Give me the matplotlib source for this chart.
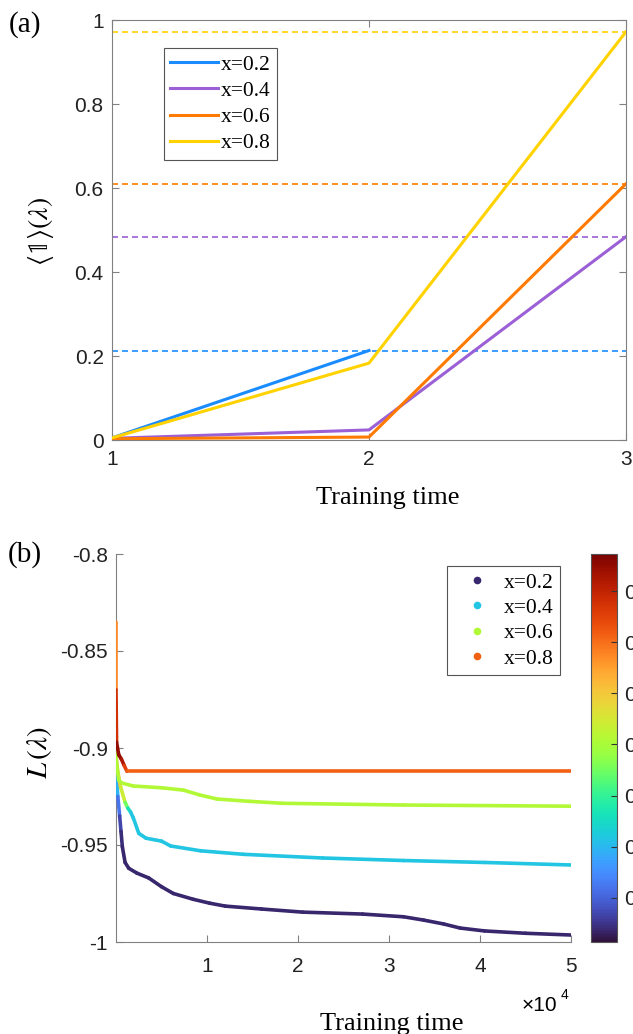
import numpy as np
import matplotlib.pyplot as plt
from matplotlib.collections import LineCollection
from matplotlib.lines import Line2D
from matplotlib import colors as mcolors

plt.rcParams['mathtext.fontset'] = 'stix'
SERIF = 'Liberation Serif'
SANS = 'Liberation Sans'
AXC = '#808080'

# ---------------- panel (a) data ----------------
steps_a = [1, 2, 3]
labels = ['x=0.2', 'x=0.4', 'x=0.6', 'x=0.8']
ind_02 = [0.005, 0.213]            # x=0.2 run stops after step 2
ind_04 = [0.004, 0.024, 0.484]
ind_06 = [0.003, 0.007, 0.610]
ind_08 = [0.005, 0.183, 0.972]
targets = [0.213, 0.483, 0.610, 0.972]
colors_a = ['#1a8cff', '#9b5fd6', '#ff7a00', '#ffd200']

# ---------------- panel (b) data ----------------
# training step, loss, colour value (shown by colorbar)
t_02 = [0, 0, 200, 400, 550, 700, 1000, 1400, 2300, 3600, 5000, 6300, 8500,
        10300, 12000, 16000, 20500, 27100, 31600, 33800, 36000, 37800, 40500, 45000, 50000]
L_02 = [-0.876, -0.911, -0.925, -0.935, -0.943, -0.951, -0.959, -0.962, -0.9645, -0.967,
        -0.9715, -0.975, -0.978, -0.980, -0.9815, -0.983, -0.9846, -0.9856, -0.987,
        -0.9887, -0.9907, -0.9928, -0.9943, -0.9955, -0.9964]
c_02 = [0.036, 0.24, 0.15, 0.09, 0.05] + [0.036] * 20

t_04 = [0, 150, 500, 1000, 1300, 1600, 1900, 2500, 3300, 5000, 6000, 9300, 14000,
        22700, 31600, 40500, 50000]
L_04 = [-0.904, -0.911, -0.920, -0.928, -0.931, -0.933, -0.936, -0.944, -0.9465, -0.948,
        -0.9505, -0.953, -0.9548, -0.9567, -0.958, -0.959, -0.9603]
c_04 = [0.56, 0.53, 0.48, 0.40, 0.30, 0.218] + [0.218] * 11

t_06 = [0, 0, 300, 600, 1900, 5000, 7400, 9200, 11100, 14700, 18300, 31600, 50000]
L_06 = [-0.883, -0.905, -0.9165, -0.918, -0.9196, -0.9205, -0.9217, -0.9242, -0.9263,
        -0.9275, -0.9285, -0.9294, -0.930]
c_06 = [0.408] * 13

t_08 = [0, 0, 60, 300, 600, 900, 1200, 50000]
L_08 = [-0.835, -0.870, -0.897, -0.9035, -0.9058, -0.909, -0.912, -0.912]
c_08 = [0.53, 0.62, 0.735, 0.76, 0.74, 0.70, 0.613, 0.613]

cvals_legend = [0.036, 0.218, 0.408, 0.613]
cbar_ticks = [0.1, 0.2, 0.3, 0.4, 0.5, 0.6, 0.7]
norm = mcolors.Normalize(vmin=0.0137, vmax=0.7725)
cmap = plt.get_cmap('turbo')

fig = plt.figure(figsize=(6.33, 10.34), dpi=100)

# ================= (a) =================
ax1 = fig.add_axes([112 / 633, 1 - 440 / 1034, 514 / 633, 420 / 1034])
series_a = [ind_02, ind_04, ind_06, ind_08]
for vals, col, lab in zip(series_a, colors_a, labels):
    ax1.plot(steps_a[:len(vals)], vals, color=col, lw=2.2, label=lab, zorder=3)
for lev, col in zip(targets, colors_a):
    ax1.axhline(lev, color=col, lw=1.2, dashes=(3.6, 2.4), zorder=2)

ax1.set_xlim(1, 3)
ax1.set_ylim(0, 1)
ax1.set_xticks([1, 2, 3])
ax1.set_xticklabels(['1', '2', '3'])
ax1.set_yticks([0, 0.2, 0.4, 0.6, 0.8, 1])
ax1.set_yticklabels(['0', '0.2', '0.4', '0.6', '0.8', '1'])
ax1.tick_params(direction='in', length=5, width=0.8, color=AXC, top=True, right=True,
                labelsize=15, labelcolor='#222222')
ax1.tick_params(axis='x', pad=7)
ax1.tick_params(axis='y', pad=6)
for lab in ax1.get_xticklabels() + ax1.get_yticklabels():
    lab.set_fontfamily(SANS)
for sp in ax1.spines.values():
    sp.set_color(AXC)
    sp.set_linewidth(0.8)

leg1 = ax1.legend(loc='upper left', bbox_to_anchor=(164 / 633, 1 - 48 / 1034),
                  bbox_transform=fig.transFigure, prop={'family': SERIF, 'size': 15.5},
                  handlelength=2.2, handletextpad=0.15, borderpad=0.3, labelspacing=0.29,
                  borderaxespad=0, fancybox=False, framealpha=1, edgecolor='#555555')
leg1.get_frame().set_linewidth(0.8)

fig.text(25 / 633, 1 - 25 / 1034, '(a)', family=SERIF, fontsize=21, ha='center', va='center')
fig.text(41 / 633, 1 - 231 / 1034, r'$\langle\mathbb{1}\rangle(\lambda)$', fontsize=20,
         rotation=90, ha='center', va='center')
fig.text(388 / 633, 1 - 504 / 1034, 'Training time', family=SERIF, fontsize=19,
         ha='center', va='baseline')

# ================= (b) =================
ax2 = fig.add_axes([116 / 633, 1 - 942 / 1034, 455 / 633, 388 / 1034])


def colored_line(ax, t, L, c):
    pts = np.column_stack([t, L])
    segs = np.stack([pts[:-1], pts[1:]], axis=1)
    c = np.asarray(c, dtype=float)
    lc = LineCollection(segs, cmap=cmap, norm=norm, linewidths=2.6,
                        capstyle='round', joinstyle='round', zorder=3)
    lc.set_array((c[:-1] + c[1:]) / 2)
    ax.add_collection(lc)
    return lc


for t, L, c in [(t_02, L_02, c_02), (t_04, L_04, c_04), (t_06, L_06, c_06), (t_08, L_08, c_08)]:
    colored_line(ax2, t, L, c)

ax2.set_xlim(0, 50000)
ax2.set_ylim(-1, -0.8)
ax2.set_xticks([10000, 20000, 30000, 40000, 50000])
ax2.set_xticklabels(['1', '2', '3', '4', '5'])
ax2.set_yticks([-1, -0.95, -0.9, -0.85, -0.8])
ax2.set_yticklabels(['-1', '-0.95', '-0.9', '-0.85', '-0.8'])
ax2.tick_params(direction='in', length=5, width=0.8, color=AXC, labelsize=15,
                labelcolor='#222222')
ax2.tick_params(axis='x', pad=11)
ax2.tick_params(axis='y', pad=6)
for lab in ax2.get_xticklabels() + ax2.get_yticklabels():
    lab.set_fontfamily(SANS)
ax2.spines['top'].set_visible(False)
ax2.spines['right'].set_visible(False)
for sp in ('left', 'bottom'):
    ax2.spines[sp].set_color(AXC)
    ax2.spines[sp].set_linewidth(0.8)

handles = [Line2D([], [], ls='none', marker='o', markersize=5.5, markeredgewidth=0,
                  color=cmap(norm(cv))) for cv in cvals_legend]
leg2 = ax2.legend(handles, labels, loc='upper left', bbox_to_anchor=(447 / 633, 1 - 566 / 1034),
                  bbox_transform=fig.transFigure, prop={'family': SERIF, 'size': 15.5},
                  handlelength=2.2, handletextpad=0.15, borderpad=0.3, labelspacing=0.25,
                  borderaxespad=0, fancybox=False, framealpha=1, edgecolor='#555555')
leg2.get_frame().set_linewidth(0.8)

cax = fig.add_axes([591 / 633, 1 - 942 / 1034, 26 / 633, 388 / 1034])
sm = plt.cm.ScalarMappable(norm=norm, cmap=cmap)
cb = fig.colorbar(sm, cax=cax, ticks=cbar_ticks)
cb.ax.set_yticklabels([f'{v:.1f}' for v in cbar_ticks])
cb.ax.tick_params(direction='in', length=4, width=0.8, color='#333333', labelsize=15,
                  pad=5, labelcolor='#222222')
for lab in cb.ax.get_yticklabels():
    lab.set_fontfamily(SANS)
cb.outline.set_edgecolor('#555555')
cb.outline.set_linewidth(0.8)

fig.text(25 / 633, 1 - 555 / 1034, '(b)', family=SERIF, fontsize=21, ha='center', va='center')
fig.text(39 / 633, 1 - 752 / 1034, r'$L\,(\lambda)$', fontsize=21,
         rotation=90, ha='center', va='center')
fig.text(522 / 633, 1 - 1011 / 1034, '×10', family=SANS, fontsize=15, ha='left', va='baseline')
fig.text(561 / 633, 1 - 999 / 1034, '4', family=SANS, fontsize=10, ha='left', va='baseline')
fig.text(392 / 633, 1 - 1030 / 1034, 'Training time', family=SERIF, fontsize=19,
         ha='center', va='baseline')

fig.savefig('out.png', dpi=100)
